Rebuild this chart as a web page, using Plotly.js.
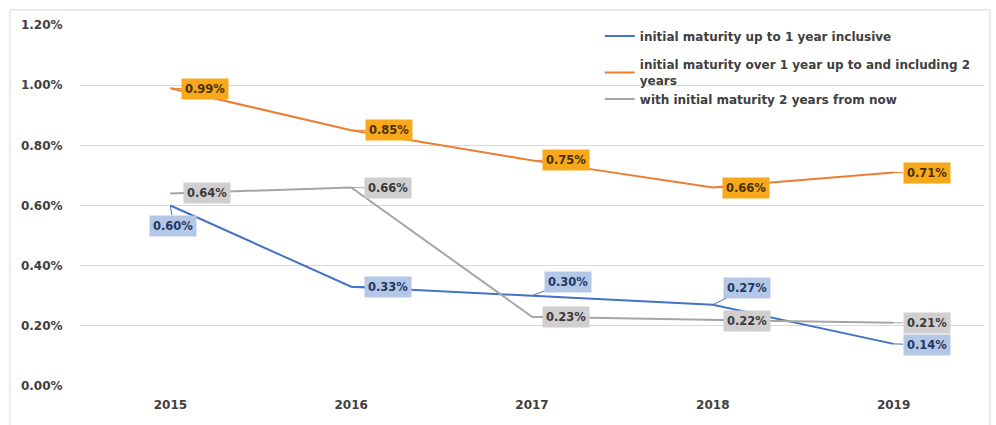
<!DOCTYPE html>
<html>
<head>
<meta charset="utf-8">
<script src="https://cdn.plot.ly/plotly-3.0.1.min.js"></script>
<style>
html,body{margin:0;padding:0;background:#fff;}
#chart{width:996px;height:425px;}
</style>
</head>
<body>
<div id="chart"></div>
<script>
// ---- data ----
const years = ['2015', '2016', '2017', '2018', '2019'];
const upTo1Year = [0.0060, 0.0033, 0.0030, 0.0027, 0.0014];
const over1To2Years = [0.0099, 0.0085, 0.0075, 0.0066, 0.0071];
const over2Years = [0.0064, 0.0066, 0.0023, 0.0022, 0.0021];
const seriesNames = [
  'initial maturity up to 1 year inclusive',
  'initial maturity over 1 year up to and including 2<br>years',
  'with initial maturity 2 years from now'
];
const yTickVals = [0, 0.002, 0.004, 0.006, 0.008, 0.010, 0.012];
const yTickText = ['0.00%', '0.20%', '0.40%', '0.60%', '0.80%', '1.00%', '1.20%'];

// ---- style ----
const colors = ['#4472C4', '#ED7D31', '#A5A5A5'];
const labelBg = ['#B4C7E7', '#F7A81B', '#D0CECE'];
const labelFg = ['#1F3864', '#4a3000', '#3a3a3a'];
const legendGroups = ['a', 'b', 'b'];
const FONT = 'DejaVu Sans, Verdana, sans-serif';

// label offsets (pixels) per series per point
const offsets = [
  [[3, 20], [37, 0], [36, -14], [34, -17], [33, 1]],
  [[35, 1], [38, 0], [34, 0], [33, 1], [33, 1]],
  [[37, 0], [37, 1], [34, 0], [34, 1], [33, 0]]
];

const allSeries = [upTo1Year, over1To2Years, over2Years];

const traces = allSeries.map((vals, i) => ({
  type: 'scatter',
  mode: 'lines',
  x: years,
  y: vals,
  name: seriesNames[i],
  legendgroup: legendGroups[i],
  line: {color: colors[i], width: 2},
  hoverinfo: 'skip'
}));

const annotations = [];
allSeries.forEach((vals, i) => {
  vals.forEach((v, j) => {
    annotations.push({
      x: j, y: v, xref: 'x', yref: 'y',
      text: (v * 100).toFixed(2) + '%',
      showarrow: true, arrowhead: 0, arrowwidth: 1, arrowcolor: colors[i],
      standoff: 0, startstandoff: 0,
      ax: offsets[i][j][0], ay: offsets[i][j][1],
      bgcolor: labelBg[i], borderpad: 3,
      font: {family: FONT, size: 11.5, color: labelFg[i], weight: 'bold'}
    });
  });
});

const layout = {
  width: 996, height: 425,
  margin: {l: 80, r: 12, t: 25, b: 39},
  paper_bgcolor: '#ffffff',
  plot_bgcolor: '#ffffff',
  showlegend: true,
  legend: {
    x: 0.575, y: 1.01, xanchor: 'left', yanchor: 'top',
    bgcolor: 'rgba(0,0,0,0)',
    traceorder: 'grouped',
    tracegroupgap: 10,
    font: {family: FONT, size: 12, color: '#404040', weight: 'bold'}
  },
  xaxis: {
    type: 'category',
    range: [-0.5, 4.5], autorange: false,
    showgrid: false, zeroline: false, showline: false,
    ticks: 'outside', ticklen: 8, tickcolor: 'rgba(0,0,0,0)',
    tickfont: {family: FONT, size: 12, color: '#404040', weight: 'bold'}
  },
  yaxis: {
    range: [0, 0.012], autorange: false,
    tickvals: yTickVals, ticktext: yTickText,
    showgrid: true, gridcolor: '#D9D9D9', gridwidth: 1,
    zeroline: false, showline: false,
    ticks: 'outside', ticklen: 14, tickcolor: 'rgba(0,0,0,0)',
    tickfont: {family: FONT, size: 12, color: '#404040', weight: 'bold'}
  },
  annotations: annotations,
  shapes: [{
    type: 'rect', xref: 'paper', yref: 'paper',
    x0: -0.0774, x1: 1.0066, y0: -0.3, y1: 1.0416,
    line: {color: '#D9D9D9', width: 1}, fillcolor: 'rgba(0,0,0,0)', layer: 'below'
  }]
};

Plotly.newPlot('chart', traces, layout, {displayModeBar: false, staticPlot: true});
</script>
</body>
</html>
